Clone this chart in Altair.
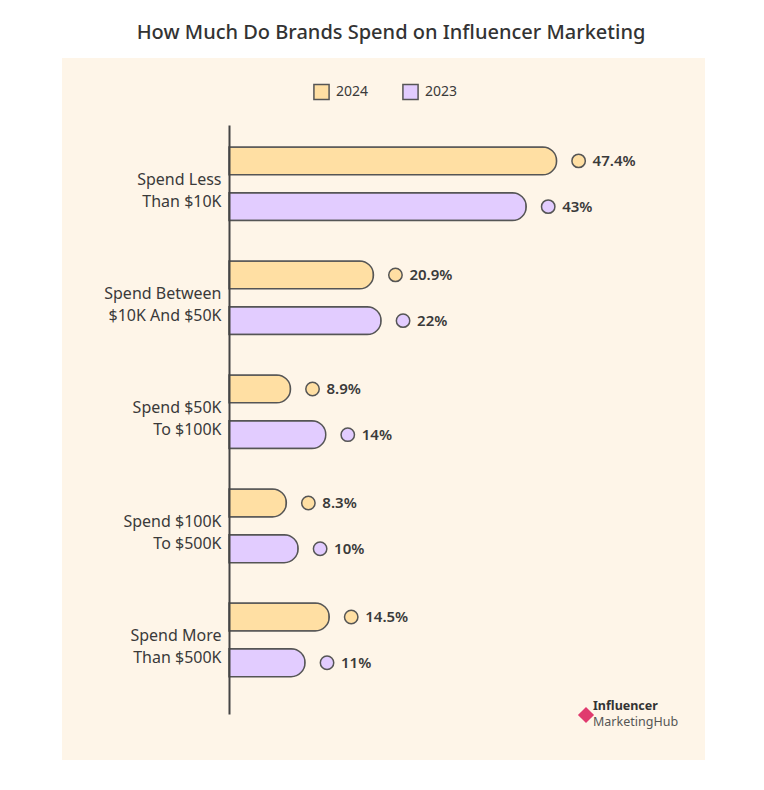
import altair as alt
import pandas as pd

categories = ["Spend Less|Than $10K", "Spend Between|$10K And $50K", "Spend $50K|To $100K",
              "Spend $100K|To $500K", "Spend More|Than $500K"]
years = ["2024", "2023"]
values_2024 = [47.4, 20.9, 8.9, 8.3, 14.5]
values_2023 = [43, 22, 14, 10, 11]
labels_2024 = ["47.4%", "20.9%", "8.9%", "8.3%", "14.5%"]
labels_2023 = ["43%", "22%", "14%", "10%", "11%"]

rows = []
for c, v, l in zip(categories, values_2024, labels_2024):
    rows.append({"cat": c, "year": "2024", "value": v, "label": l})
for c, v, l in zip(categories, values_2023, labels_2023):
    rows.append({"cat": c, "year": "2023", "value": v, "label": l})
df = pd.DataFrame(rows)

FONT = "Noto Sans"
TEXT = "#3a3a3a"
colors = ["#FFDFA3", "#E2CCFF"]

y_enc = alt.Y("cat:N", sort=categories, title=None,
              scale=alt.Scale(paddingInner=0.354, paddingOuter=0.26, align=0.37),
              axis=alt.Axis(labelExpr="split(datum.label, '|')", labelFontSize=16,
                            labelColor=TEXT, labelFont=FONT, ticks=False,
                            labelPadding=8, domainColor="#444", domainWidth=2,
                            labelLineHeight=22, labelLimit=300, zindex=1,
                            labelOffset=-4))
yoff = alt.YOffset("year:N", sort=years, scale=alt.Scale(paddingInner=0.39, paddingOuter=0))
x_enc = alt.X("value:Q", axis=None, scale=alt.Scale(domain=[0, 68]))
color_enc = alt.Color("year:N", sort=years, scale=alt.Scale(domain=years, range=colors),
                      legend=alt.Legend(title=None, orient="none", direction="horizontal",
                                        legendX=84, legendY=-42, symbolType="square",
                                        symbolSize=230, symbolStrokeColor="#555",
                                        symbolStrokeWidth=1.5, labelFontSize=14,
                                        labelFont=FONT, labelColor=TEXT, columnPadding=30,
                                        labelOffset=6, zindex=1))

bg = alt.Chart(pd.DataFrame({"a": [0]})).mark_rect(color="#FEF5E8").encode(
    x=alt.value(-167), x2=alt.value(476), y=alt.value(-67), y2=alt.value(635))

base = alt.Chart(df)
bars = base.mark_bar(cornerRadiusEnd=14, stroke="#555", strokeWidth=1.5).encode(
    x=x_enc, y=y_enc, yOffset=yoff, color=color_enc)
dots = base.mark_circle(xOffset=22, size=180, stroke="#555", strokeWidth=1.5, opacity=1).encode(
    x=x_enc, y=y_enc, yOffset=yoff, color=alt.Color("year:N", sort=years,
        scale=alt.Scale(domain=years, range=colors), legend=None))
texts = base.mark_text(dx=36, align="left", baseline="middle", fontSize=15, fontWeight=600,
                       font=FONT, color=TEXT).encode(
    x=x_enc, y=y_enc, yOffset=yoff, text="label:N")

logo_mark = alt.Chart(pd.DataFrame({"a": [0]})).mark_point(
    shape="diamond", filled=True, color="#E03A6E", size=260, opacity=1).encode(
    x=alt.value(357), y=alt.value(590))
logo1 = alt.Chart(pd.DataFrame({"a": [0]})).mark_text(
    text="Influencer", align="left", fontSize=12.5, fontWeight="bold", font=FONT,
    color="#333").encode(x=alt.value(364), y=alt.value(581))
logo2 = alt.Chart(pd.DataFrame({"a": [0]})).mark_text(
    text="MarketingHub", align="left", fontSize=12.5, font=FONT,
    color="#555").encode(x=alt.value(364), y=alt.value(597))

chart = alt.layer(bg, bars, dots, texts, logo_mark, logo1, logo2).properties(
    width=470, height=589,
    title=alt.TitleParams("How Much Do Brands Spend on Influencer Marketing", fontSize=20,
                          font=FONT, fontWeight=500, color="#333", anchor="middle",
                          dx=-73, offset=15),
    autosize=alt.AutoSizeParams(type="none"),
    padding={"left": 221, "top": 117, "right": 57, "bottom": 68},
).configure(background="white").configure_view(stroke=None)

chart.save("out.html", embed_options={"renderer": "svg", "actions": False})
